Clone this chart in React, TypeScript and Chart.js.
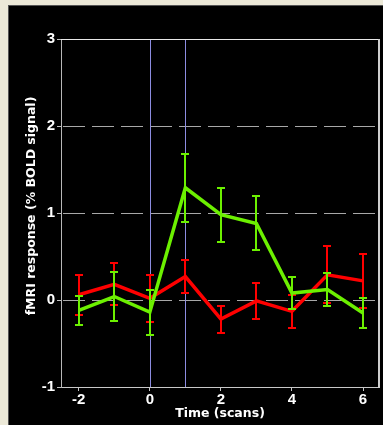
import React, { useEffect, useRef } from "react";
import { Chart, registerables } from "chart.js";

Chart.register(...registerables);

const timePoints = [-2, -1, 0, 1, 2, 3, 4, 5, 6];
const greenMean = [-0.12, 0.04, -0.14, 1.29, 0.98, 0.88, 0.08, 0.12, -0.15];
const greenErr = [0.17, 0.28, 0.26, 0.39, 0.31, 0.31, 0.18, 0.19, 0.17];
const redMean = [0.06, 0.18, 0.02, 0.27, -0.22, -0.01, -0.13, 0.29, 0.22];
const redErr = [0.23, 0.24, 0.27, 0.19, 0.155, 0.21, 0.19, 0.33, 0.31];
const xTickValues = [-2, 0, 2, 4, 6];
const yTickValues = [-1, 0, 1, 2, 3];
const dashedLevels = [0, 1, 2];
const stimulusMarkers = [0, 1];
const xTitle = "Time (scans)";
const yTitle = "fMRI response (% BOLD signal)";

const GREEN = "#6cf000";
const RED = "#ff0000";

const errorBarPlugin = {
  id: "errorBars",
  afterDatasetDraw(chart: any, args: any) {
    const ds = chart.data.datasets[args.index];
    const errs = ds.errors;
    if (!errs) return;
    const { ctx } = chart;
    const xs = chart.scales.x;
    const ys = chart.scales.y;
    ctx.save();
    ctx.strokeStyle = ds.borderColor;
    ctx.lineWidth = 2;
    ds.data.forEach((p: any, i: number) => {
      const px = Math.round(xs.getPixelForValue(p.x));
      const top = Math.round(ys.getPixelForValue(p.y + errs[i]));
      const bot = Math.round(ys.getPixelForValue(p.y - errs[i]));
      ctx.beginPath();
      ctx.moveTo(px, top);
      ctx.lineTo(px, bot);
      ctx.moveTo(px - 4, top);
      ctx.lineTo(px + 4, top);
      ctx.moveTo(px - 4, bot);
      ctx.lineTo(px + 4, bot);
      ctx.stroke();
    });
    ctx.restore();
  },
};

const decorPlugin = {
  id: "decor",
  beforeDatasetsDraw(chart: any) {
    const { ctx, chartArea } = chart;
    const xs = chart.scales.x;
    const ys = chart.scales.y;
    ctx.save();
    // dashed levels
    ctx.strokeStyle = "#a8a8a8";
    ctx.lineWidth = 1;
    ctx.setLineDash([22, 7]);
    dashedLevels.forEach((v) => {
      const py = Math.round(ys.getPixelForValue(v)) + 0.5;
      ctx.beginPath();
      ctx.moveTo(chartArea.left + 2, py);
      ctx.lineTo(chartArea.right - 2, py);
      ctx.stroke();
    });
    ctx.setLineDash([]);
    // stimulus markers
    ctx.strokeStyle = "#8c8ce0";
    stimulusMarkers.forEach((v) => {
      const px = Math.round(xs.getPixelForValue(v)) + 0.5;
      ctx.beginPath();
      ctx.moveTo(px, chartArea.top);
      ctx.lineTo(px, chartArea.bottom);
      ctx.stroke();
    });
    // top and right frame
    ctx.strokeStyle = "#e8e8e8";
    ctx.beginPath();
    ctx.moveTo(chartArea.left, Math.round(chartArea.top) + 0.5);
    ctx.lineTo(chartArea.right, Math.round(chartArea.top) + 0.5);
    ctx.stroke();
    ctx.strokeStyle = "#cfcfcf";
    ctx.lineWidth = 2;
    ctx.beginPath();
    ctx.moveTo(Math.round(chartArea.right), chartArea.top);
    ctx.lineTo(Math.round(chartArea.right), chartArea.bottom + 1);
    ctx.stroke();
    ctx.restore();
  },
  afterDraw(chart: any) {
    const { ctx, chartArea } = chart;
    ctx.save();
    ctx.fillStyle = "#ffffff";
    ctx.font = "bold 12.5px 'DejaVu Sans'";
    ctx.textAlign = "center";
    ctx.textBaseline = "middle";
    ctx.translate(23, (chartArea.top + chartArea.bottom) / 2 - 7);
    ctx.rotate(-Math.PI / 2);
    ctx.fillText(yTitle, 0, 0);
    ctx.restore();
  },
};

export default function App() {
  const ref = useRef<HTMLCanvasElement | null>(null);

  useEffect(() => {
    if (!ref.current) return;
    const tickFont = { family: "'Liberation Sans'", weight: "bold" as const, size: 15 };
    const chart = new Chart(ref.current, {
      type: "line",
      data: {
        datasets: [
          {
            label: "green",
            data: timePoints.map((t, i) => ({ x: t, y: greenMean[i] })),
            borderColor: GREEN,
            backgroundColor: GREEN,
            borderWidth: 3.5,
            pointRadius: 0,
            tension: 0,
            errors: greenErr,
          } as any,
          {
            label: "red",
            data: timePoints.map((t, i) => ({ x: t, y: redMean[i] })),
            borderColor: RED,
            backgroundColor: RED,
            borderWidth: 3.5,
            pointRadius: 0,
            tension: 0,
            errors: redErr,
          } as any,
        ],
      },
      options: {
        animation: false,
        responsive: false,
        devicePixelRatio: 1,
        layout: { padding: { top: 33, right: 4, left: 0, bottom: 0 } },
        plugins: { legend: { display: false }, tooltip: { enabled: false } },
        scales: {
          x: {
            type: "linear",
            min: -2.5,
            max: 6.45,
            afterFit(s: any) {
              s.height = 38;
            },
            afterBuildTicks(s: any) {
              s.ticks = xTickValues.map((v) => ({ value: v }));
            },
            ticks: { color: "#ffffff", font: tickFont, padding: 0, maxRotation: 0, autoSkip: false },
            grid: { drawOnChartArea: false, drawTicks: true, tickLength: 4, color: "#c8c8c8" },
            border: { display: true, color: "#c8c8c8", width: 1 },
            title: {
              display: true,
              text: xTitle,
              color: "#ffffff",
              font: { family: "'DejaVu Sans'", weight: "bold", size: 12.5 },
              padding: { top: 0, bottom: 4 },
            },
          },
          y: {
            type: "linear",
            min: -1,
            max: 3,
            afterFit(s: any) {
              s.width = 52;
            },
            afterBuildTicks(s: any) {
              s.ticks = yTickValues.map((v) => ({ value: v }));
            },
            ticks: { color: "#ffffff", font: tickFont, padding: 2 },
            grid: { drawOnChartArea: false, drawTicks: true, tickLength: 4, color: "#c0c0c0" },
            border: { display: true, color: "#b8b8b8", width: 1 },
          },
        },
      } as any,
      plugins: [decorPlugin, errorBarPlugin],
    });
    return () => chart.destroy();
  }, []);

  return (
    <div
      style={{
        position: "absolute",
        left: 0,
        top: 0,
        width: 383,
        height: 425,
        background: "#ece9d8",
        overflow: "hidden",
      }}
    >
      <div
        style={{
          position: "absolute",
          left: 8,
          top: 5,
          width: 375,
          height: 420,
          background: "#000000",
          borderLeft: "1px solid #555",
          borderTop: "1px solid #555",
          boxSizing: "border-box",
        }}
      >
        <canvas
          ref={ref}
          width={374}
          height={419}
          style={{ display: "block", width: 374, height: 419 }}
        />
      </div>
    </div>
  );
}
